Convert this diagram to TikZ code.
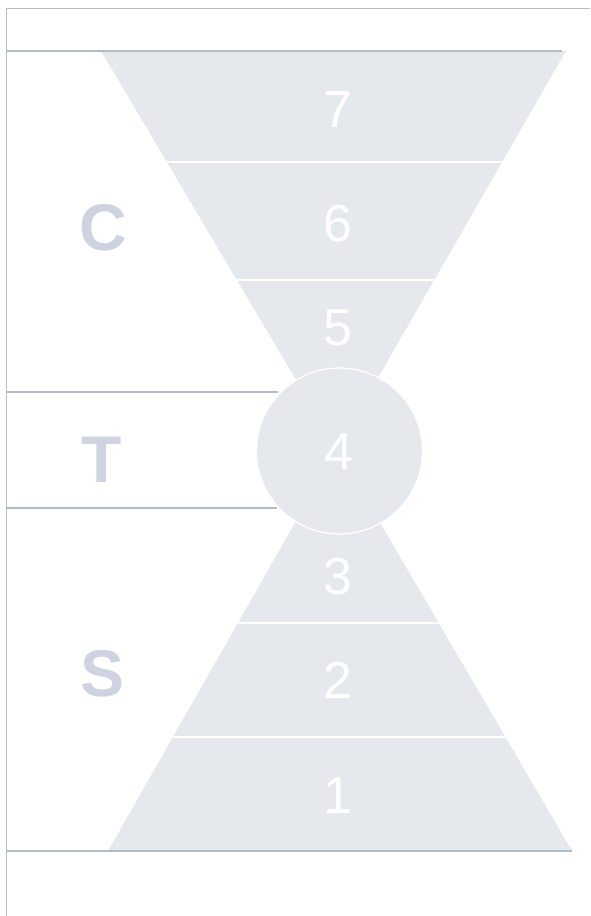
\documentclass[tikz,border=0pt]{standalone}
\usepackage{fontspec}
\setmainfont{Liberation Sans}
\usetikzlibrary{positioning,calc}
\usepackage{xcolor}
\definecolor{bandfill}{RGB}{229,232,237}
\definecolor{rulecol}{RGB}{178,187,203}
\definecolor{lettercol}{RGB}{207,210,224}
\definecolor{framecol}{RGB}{188,188,188}

\begin{document}
\begin{tikzpicture}[
  x=1pt, y=-1pt,
  num/.style={text=white, inner sep=0pt, font=\fontsize{52}{52}\selectfont},
  let/.style={text=lettercol, inner sep=0pt, font=\bfseries\fontsize{66}{66}\selectfont},
  rule/.style={draw=rulecol, line width=2.6pt},
  cut/.style={draw=white, line width=1.8pt}]
\useasboundingbox (0,0) rectangle (590,916);
% frame
\draw[framecol, line width=1pt] (590,8) -- (6,8) -- (6,916);
% hourglass
\coordinate (tl) at (101,51);  \coordinate (tr) at (566,51);
\coordinate (bl) at (108,851); \coordinate (br) at (572,851);
\coordinate (mid) at (337,449);
\fill[bandfill] (tl) -- (tr) -- (mid) -- cycle;
\fill[bandfill] (bl) -- (br) -- (mid) -- cycle;
\begin{scope}
  \clip (tl) -- (tr) -- (mid) -- cycle;
  \foreach \y in {162,280} \draw[cut] (0,\y) -- (590,\y);
\end{scope}
\begin{scope}
  \clip (bl) -- (br) -- (mid) -- cycle;
  \foreach \y in {623,737} \draw[cut] (0,\y) -- (590,\y);
\end{scope}
\node[circle, fill=bandfill, draw=white, line width=1.2pt, minimum size=166pt, inner sep=0pt]
  (hub) at (339.5,451) {};
% rules
\coordinate (r1a) at (6,51);  \coordinate (r1b) at (562,51);
\coordinate (r2a) at (6,392); \coordinate (r2b) at (278,392);
\coordinate (r3a) at (6,508); \coordinate (r3b) at (277,508);
\coordinate (r4a) at (6,851); \coordinate (r4b) at (572,851);
\foreach \a/\b in {r1a/r1b,r2a/r2b,r3a/r3b,r4a/r4b} \draw[rule] (\a) -- (\b);
% numbers
\node[num] (n7) at (338,109.5) {7};
\node[num] (n6) at (338,224) {6};
\node[num] (n5) at (338,328) {5};
\node[num] (n4) at (338.5,452) {4};
\node[num] (n3) at (338,577) {3};
\node[num] (n2) at (338,680) {2};
\node[num] (n1) at (338,795.5) {1};
% letters
\node[let] (lc) at (103.5,228) {C};
\node[let] (lt) at (102,459.5) {T};
\node[let] (ls) at (103,673.5) {S};
\end{tikzpicture}
\end{document}
